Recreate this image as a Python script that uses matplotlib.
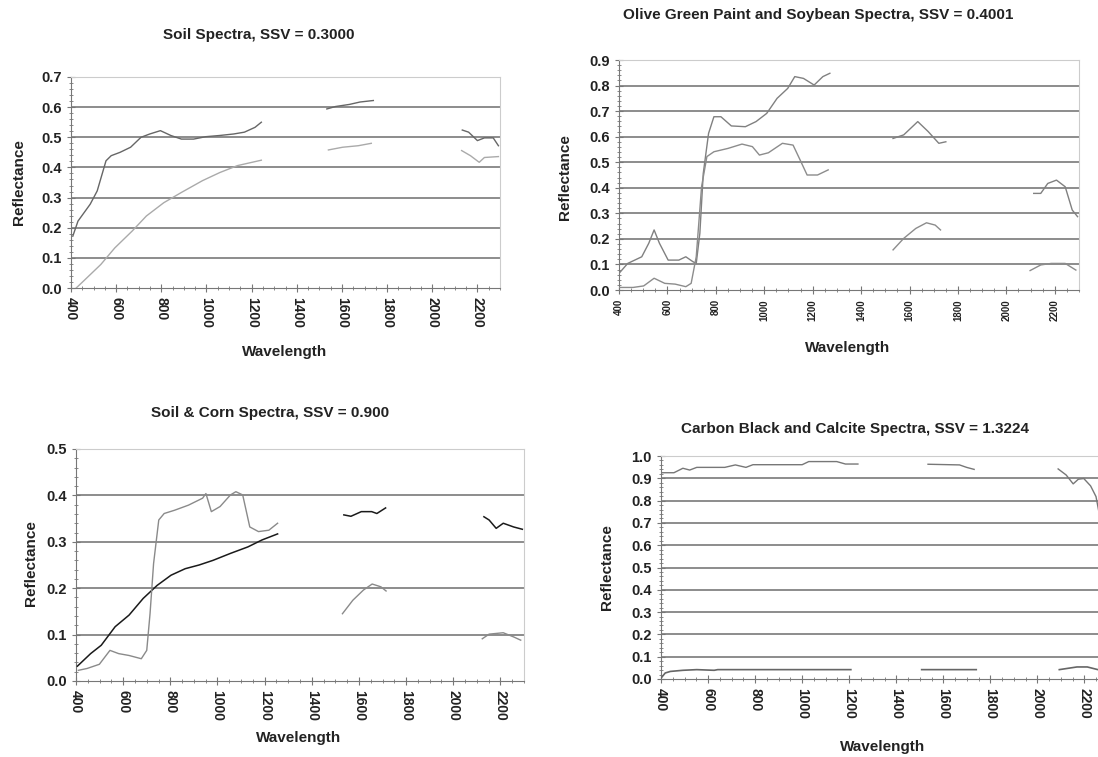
import numpy as np
import matplotlib
matplotlib.use('Agg')
from matplotlib import pyplot as plt
from matplotlib.ticker import MultipleLocator, FormatStrFormatter

nan = np.nan

# --- Soil spectra (top left)
soil1_wl = [408, 431, 485, 516, 555, 578, 617, 664, 710, 749, 796, 842, 889, 943, 997, 1059, 1121, 1168, 1215, 1243,
            nan, 1533, 1571, 1633, 1680, 1739, nan, 2133, 2161, 2200, 2231, 2270, 2293]
soil1_r = [0.172, 0.222, 0.278, 0.322, 0.422, 0.439, 0.45, 0.467, 0.50, 0.511, 0.522, 0.506, 0.494, 0.494, 0.502, 0.506,
           0.511, 0.517, 0.533, 0.55, nan, 0.594, 0.602, 0.609, 0.617, 0.622, nan, 0.524, 0.517, 0.489, 0.498, 0.498, 0.472]
soil2_wl = [423, 454, 532, 594, 671, 734, 811, 889, 982, 1059, 1137, 1243, nan, 1540, 1603, 1672, 1730,
            nan, 2130, 2169, 2208, 2231, 2293]
soil2_r = [0.0, 0.022, 0.078, 0.133, 0.189, 0.239, 0.283, 0.317, 0.356, 0.383, 0.406, 0.424, nan, 0.458, 0.467, 0.472, 0.48,
           nan, 0.456, 0.439, 0.417, 0.433, 0.436]

# --- Olive green paint and soybean (top right)
olive_wl = [400, 436, 494, 523, 545, 567, 603, 647, 676, 705, 719, 734, 748, 770, 792, 821, 864, 922, 966, 1010, 1053,
            1097, 1126, 1162, 1206, 1242, 1271, nan, 1532, 1576, 1634, 1677, 1721, 1750,
            nan, 2113, 2142, 2171, 2207, 2243, 2272, 2294]
olive_r = [0.065, 0.104, 0.13, 0.183, 0.235, 0.183, 0.117, 0.117, 0.13, 0.111, 0.104, 0.222, 0.456, 0.613, 0.678, 0.678,
           0.642, 0.639, 0.659, 0.691, 0.75, 0.789, 0.835, 0.828, 0.802, 0.835, 0.848, nan, 0.593, 0.607, 0.659, 0.62,
           0.574, 0.58, nan, 0.378, 0.378, 0.417, 0.43, 0.404, 0.313, 0.287]
soy_wl = [400, 458, 502, 545, 589, 632, 676, 698, 719, 741, 763, 792, 850, 908, 951, 980, 1017, 1075, 1119, 1148, 1177,
          1220, 1264, nan, 1532, 1576, 1626, 1670, 1706, 1728, nan, 2098, 2142, 2185, 2243, 2287]
soy_r = [0.01, 0.01, 0.016, 0.046, 0.026, 0.023, 0.013, 0.026, 0.13, 0.404, 0.522, 0.541, 0.554, 0.571, 0.561, 0.528,
         0.537, 0.574, 0.567, 0.509, 0.45, 0.45, 0.47, nan, 0.157, 0.202, 0.241, 0.263, 0.254, 0.235,
         nan, 0.076, 0.098, 0.104, 0.104, 0.078]

# --- Soil & corn (bottom left)
soil3_wl = [406, 462, 507, 566, 625, 685, 744, 803, 863, 922, 981, 1055, 1129, 1189, 1255,
            nan, 1536, 1566, 1610, 1654, 1676, 1713, nan, 2130, 2152, 2182, 2212, 2256, 2293]
soil3_r = [0.032, 0.059, 0.077, 0.117, 0.142, 0.178, 0.206, 0.228, 0.242, 0.25, 0.26, 0.275, 0.289, 0.304, 0.317,
           nan, 0.358, 0.355, 0.365, 0.365, 0.361, 0.373, nan, 0.354, 0.347, 0.329, 0.34, 0.332, 0.327]
corn_wl = [410, 447, 499, 544, 581, 625, 677, 700, 714, 729, 751, 774, 818, 877, 937, 951, 974, 1011, 1055, 1078, 1107,
           1137, 1174, 1218, 1255, nan, 1530, 1574, 1619, 1656, 1693, 1715, nan, 2123, 2152, 2212, 2256, 2286]
corn_r = [0.023, 0.027, 0.036, 0.066, 0.059, 0.055, 0.048, 0.066, 0.145, 0.253, 0.347, 0.361, 0.368, 0.379, 0.394,
          0.404, 0.365, 0.376, 0.401, 0.408, 0.401, 0.332, 0.322, 0.325, 0.34, nan, 0.145, 0.174, 0.196, 0.209,
          0.203, 0.194, nan, 0.091, 0.101, 0.104, 0.095, 0.088]

# --- Carbon black and calcite (bottom right)
calcite_wl = [400, 455, 493, 522, 552, 671, 716, 761, 791, 1000, 1028, 1147, 1184, 1237,
              nan, 1535, 1669, 1699, 1731, nan, 2088, 2122, 2152, 2174, 2197, 2226, 2249, 2261, 2280]
calcite_r = [0.925, 0.925, 0.945, 0.937, 0.949, 0.949, 0.96, 0.949, 0.961, 0.961, 0.975, 0.975, 0.964, 0.964,
             nan, 0.963, 0.96, 0.949, 0.94, nan, 0.942, 0.915, 0.875, 0.896, 0.899, 0.866, 0.818, 0.751, 0.70]
carbon_wl = [400, 418, 440, 493, 552, 626, 641, 1207, nan, 1508, 1740, nan, 2093, 2168, 2212, 2257, 2300]
carbon_r = [0.004, 0.027, 0.034, 0.039, 0.042, 0.039, 0.042, 0.042, nan, 0.042, 0.042, nan, 0.042, 0.054, 0.054,
            0.042, 0.042]

W, H = 1098, 757
fig = plt.figure(figsize=(W / 100, H / 100), dpi=100)
fig.patch.set_facecolor('white')
font = 'Liberation Sans'


def px(x, y):
    return x / W, 1 - y / H


def make_ax(left, right, top, bottom, ymax, xfont=10, xrot=270):
    ax = fig.add_axes([left / W, 1 - bottom / H, (right - left) / W, (bottom - top) / H])
    ax.set_xlim(400, 2300)
    ax.set_ylim(0, ymax)
    ax.xaxis.set_major_locator(MultipleLocator(200))
    ax.xaxis.set_minor_locator(MultipleLocator(50))
    ax.yaxis.set_major_locator(MultipleLocator(0.1))
    ax.yaxis.set_minor_locator(MultipleLocator(0.02))
    ax.yaxis.set_major_formatter(FormatStrFormatter('%.1f'))
    ax.set_xticks(np.arange(400, 2201, 200))
    for y in np.arange(0.1, ymax + 0.001, 0.1):
        ax.axhline(y, color='#8c8c8c', lw=1.4, zorder=1)
    for s in ['top', 'right']:
        ax.spines[s].set_color('#cccccc')
    for s in ['left', 'bottom']:
        ax.spines[s].set_color('#777777')
    ax.tick_params(which='major', direction='inout', length=6, color='#777777', width=0.8)
    ax.tick_params(which='minor', direction='inout', length=3, color='#777777', width=0.6)
    ax.tick_params(axis='x', which='minor', top=False)
    for t in ax.get_yticklabels():
        t.set_fontsize(10.5)
        t.set_fontweight('bold')
        t.set_family(font)
        t.set_color('#222222')
    for t in ax.get_xticklabels():
        t.set_fontsize(xfont)
        t.set_fontweight('bold')
        t.set_family(font)
        t.set_color('#222222')
        t.set_rotation(xrot)
    return ax


def label(x, y, s, size=11, rot=0):
    fig.text(*px(x, y), s, ha='center', va='center', fontsize=size, fontweight='bold',
             family=font, color='#222222', rotation=rot)


# top left
ax1 = make_ax(71, 500, 77, 288, 0.7)
ax1.plot(soil1_wl, soil1_r, color='#666666', lw=1.0, zorder=3)
ax1.plot(soil2_wl, soil2_r, color='#aaaaaa', lw=1.0, zorder=3)
label(259, 35, 'Soil Spectra, SSV = 0.3000')
label(19, 182, 'Reflectance', rot=90)
label(285, 352, 'Wavelength')

# top right
ax2 = make_ax(619, 1079, 60, 290, 0.9, xfont=7, xrot=90)
ax2.plot(olive_wl, olive_r, color='#808080', lw=1.0, zorder=3)
ax2.plot(soy_wl, soy_r, color='#8c8c8c', lw=1.0, zorder=3)
label(818, 15, 'Olive Green Paint and Soybean Spectra, SSV = 0.4001')
label(565, 177, 'Reflectance', rot=90)
label(848, 348, 'Wavelength')

# bottom left
ax3 = make_ax(76, 524, 449, 681, 0.5)
ax3.plot(soil3_wl, soil3_r, color='#1a1a1a', lw=1.1, zorder=3)
ax3.plot(corn_wl, corn_r, color='#8a8a8a', lw=1.0, zorder=3)
label(270, 413, 'Soil & Corn Spectra, SSV = 0.900')
label(31, 563, 'Reflectance', rot=90)
label(299, 738, 'Wavelength')

# bottom right (runs off the right edge in the original)
ax4 = make_ax(661, 1108, 456, 679, 1.0)
ax4.plot(calcite_wl, calcite_r, color='#777777', lw=1.0, zorder=3)
ax4.plot(carbon_wl, carbon_r, color='#666666', lw=1.2, zorder=3)
label(855, 429, 'Carbon Black and Calcite Spectra, SSV = 1.3224')
label(607, 567, 'Reflectance', rot=90)
label(883, 747, 'Wavelength')

fig.savefig('out.png', dpi=100)
